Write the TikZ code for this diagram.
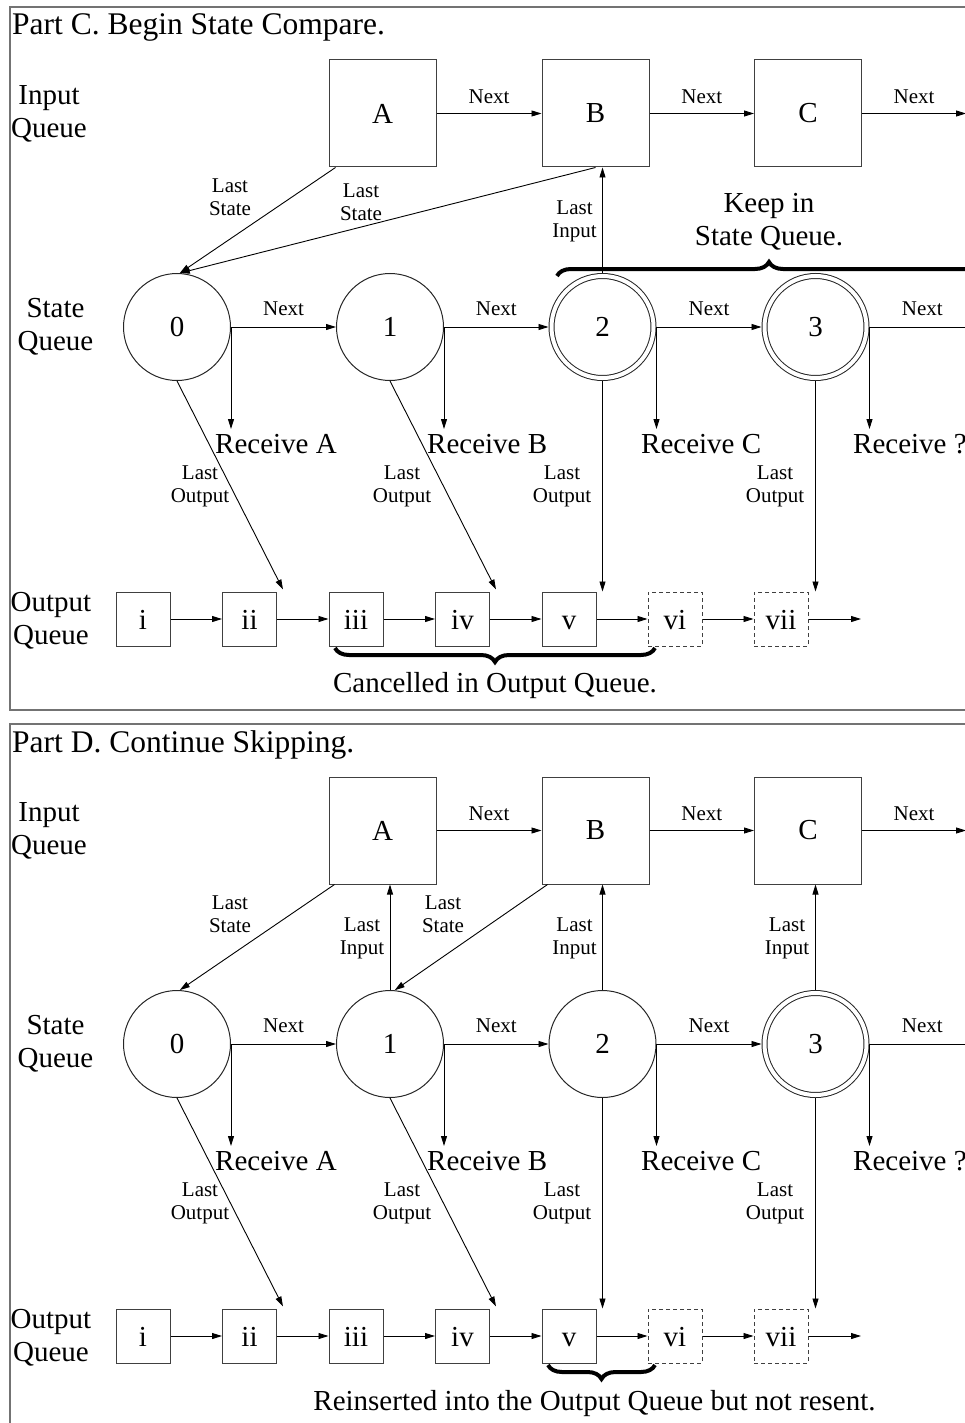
\documentclass[tikz,border=0pt]{standalone}
\usepackage{fontspec}
\setmainfont{Liberation Serif}
\usetikzlibrary{arrows.meta,calc,decorations.pathreplacing}

\tikzset{
  bigtxt/.style={font=\fontsize{29}{33}\selectfont},
  smalltxt/.style={font=\fontsize{21}{23}\selectfont},
  titletxt/.style={font=\fontsize{31.5}{36}\selectfont, anchor=base west, inner sep=0},
  inbox/.style={draw=black!75, line width=1pt, minimum size=107pt, inner sep=0, bigtxt},
  stcirc/.style={draw=black!85, line width=1pt, circle, minimum size=107pt, inner sep=0, bigtxt},
  dstcirc/.style={stcirc, minimum size=102pt, double, double distance=4pt, outer sep=3pt},
  outbox/.style={draw=black!75, line width=1pt, minimum size=54pt, inner sep=0,
                 text height=20pt, text depth=0pt, bigtxt},
  ghostbox/.style={outbox, dash pattern=on 4pt off 3pt},
  link/.style={-{Triangle[length=10pt,width=6pt]}, line width=0.9pt},
  lbl/.style={smalltxt, align=center, inner sep=0},
  rowlbl/.style={bigtxt, align=center, inner sep=0},
  recv/.style={bigtxt, anchor=base west, inner sep=0},
  note/.style={bigtxt, align=center, inner sep=0},
  bigbrace/.style={decorate, decoration={brace, amplitude=14pt}, line width=4pt},
  frameline/.style={draw=black!55, line width=1.7pt},
}

% One panel: frame, title, the three queues and their common pointers.
% #1 name prefix, #2 title, #3 style of state 2
\newcommand{\drawpanel}[3]{%
  \draw[frameline] (1000,7) -- (10,7) -- (10,710) -- (1000,710);
  \node[titletxt] (#1title) at (12,35) {#2};
  \node[rowlbl] (#1inq) at (49,113.5) {Input\\Queue};
  \node[rowlbl] (#1stq) at (55.5,327) {State\\Queue};
  \node[rowlbl] (#1outq) at (51,621) {Output\\Queue};
  % input queue
  \node[inbox] (#1A) at (382.5,113.5) {A};
  \node[inbox] (#1B) at (595.5,113.5) {B};
  \node[inbox] (#1C) at (808,113.5) {C};
  \coordinate (#1Cnext) at (966,113.5);
  \draw[link] (#1A) -- node[lbl, above=9.5pt] {Next} (#1B);
  \draw[link] (#1B) -- node[lbl, above=9.5pt] {Next} (#1C);
  \draw[link] (#1C) -- node[lbl, above=9.5pt] {Next} (#1Cnext);
  % state queue
  \node[stcirc] (#1s0) at (177,327) {0};
  \node[stcirc] (#1s1) at (390,327) {1};
  \node[#3] (#1s2) at (602.5,327) {2};
  \node[dstcirc] (#1s3) at (815.5,327) {3};
  \coordinate (#1s3next) at (975,327);
  \draw[link] (#1s0) -- node[lbl, above=11pt] {Next} (#1s1);
  \draw[link] (#1s1) -- node[lbl, above=11pt] {Next} (#1s2);
  \draw[link] (#1s2) -- node[lbl, above=11pt] {Next} (#1s3);
  \draw[link] (#1s3) -- node[lbl, above=11pt] {Next} (#1s3next);
  % received messages
  \node[recv] (#1rA) at (215,453) {Receive A};
  \node[recv] (#1rB) at (427,453) {Receive B};
  \node[recv] (#1rC) at (641,453) {Receive C};
  \node[recv] (#1rQ) at (853,453) {Receive ?};
  \coordinate (#1tA) at ($(#1s0.east)+(0,102)$);
  \coordinate (#1tB) at ($(#1s1.east)+(0,102)$);
  \coordinate (#1tC) at ($(#1s2.east)+(0,102)$);
  \coordinate (#1tQ) at ($(#1s3.east)+(0,102)$);
  \draw[link] (#1s0.east) -- (#1tA);
  \draw[link] (#1s1.east) -- (#1tB);
  \draw[link] (#1s2.east) -- (#1tC);
  \draw[link] (#1s3.east) -- (#1tQ);
  % output queue
  \node[outbox] (#1i) at (143,619) {i};
  \node[outbox] (#1ii) at (249.5,619) {ii};
  \node[outbox] (#1iii) at (356,619) {iii};
  \node[outbox] (#1iv) at (462.5,619) {iv};
  \node[outbox] (#1v) at (569,619) {v};
  \node[ghostbox] (#1vi) at (675,619) {vi};
  \node[ghostbox] (#1vii) at (781,619) {vii};
  \coordinate (#1oend) at (861,619);
  \draw[link] (#1i) -- (#1ii);
  \draw[link] (#1ii) -- (#1iii);
  \draw[link] (#1iii) -- (#1iv);
  \draw[link] (#1iv) -- (#1v);
  \draw[link] (#1v) -- (#1vi);
  \draw[link] (#1vi) -- (#1vii);
  \draw[link] (#1vii) -- (#1oend);
  % last output pointers
  \draw[link] (#1s0.south) -- ($(#1ii.north east)+(6,-2)$);
  \draw[link] (#1s1.south) -- ($(#1iv.north east)+(6,-2)$);
  \draw[link] (#1s2.south) -- (#1s2.south |- #1v.north);
  \draw[link] (#1s3.south) -- (#1s3.south |- #1vii.north);
  \node[lbl] (#1lo0) at (200,486) {Last\\Output};
  \node[lbl] (#1lo1) at (402,486) {Last\\Output};
  \node[lbl] (#1lo2) at (562,486) {Last\\Output};
  \node[lbl] (#1lo3) at (775,486) {Last\\Output};
}

\begin{document}
\begin{tikzpicture}[x=1pt, y=-1pt]
  \path[use as bounding box] (0,0) rectangle (965,1423);
  \clip (0,0) rectangle (965,1423);

  % ---- Part C ----
  \drawpanel{c}{Part C. Begin State Compare.}{dstcirc}
  \draw[link] ($(cA.south west)+(7,0)$) -- (cs0.87);
  \node[lbl] (cls1) at (230,197.5) {Last\\State};
  \draw[link] (cB.south) -- (cs0.87);
  \node[lbl] (cls2) at (361,202.5) {Last\\State};
  \draw[link] (cs2.north) -- (cs2.north |- cB.south);
  \node[lbl] (cli2) at (574.5,221) {Last\\Input};
  \coordinate (ckl) at (557,276);
  \coordinate (ckr) at (981,276);
  \draw[bigbrace] (ckl) -- (ckr);
  \node[note] (ckeep) at (769,222) {Keep in\\State Queue.};
  \coordinate (ccr) at (655,648);
  \coordinate (ccl) at (335,648);
  \draw[bigbrace] (ccr) -- (ccl);
  \node[note, anchor=base] (ccanc) at (495,692) {Cancelled in Output Queue.};

  % ---- Part D ----
  \begin{scope}[shift={(0,717)}]
    \drawpanel{d}{Part D. Continue Skipping.}{stcirc}
    \draw[link] ($(dA.south west)+(6,0)$) -- (ds0.87);
    \node[lbl] (dls0) at (230,197.5) {Last\\State};
    \draw[link] (ds1.north) -- (ds1.north |- dA.south);
    \node[lbl] (dli1) at (362,221) {Last\\Input};
    \draw[link] ($(dB.south west)+(6,0)$) -- (ds1.85);
    \node[lbl] (dls1) at (443,197.5) {Last\\State};
    \draw[link] (ds2.north) -- (ds2.north |- dB.south);
    \node[lbl] (dli2) at (574.5,221) {Last\\Input};
    \draw[link] (ds3.north) -- (ds3.north |- dC.south);
    \node[lbl] (dli3) at (787,221) {Last\\Input};
    \coordinate (drr) at (655,648);
    \coordinate (drl) at (548,648);
    \draw[bigbrace] (drr) -- (drl);
    \node[note, anchor=base] (dreins) at (594.5,693) {Reinserted into the Output Queue but not resent.};
  \end{scope}
\end{tikzpicture}
\end{document}
